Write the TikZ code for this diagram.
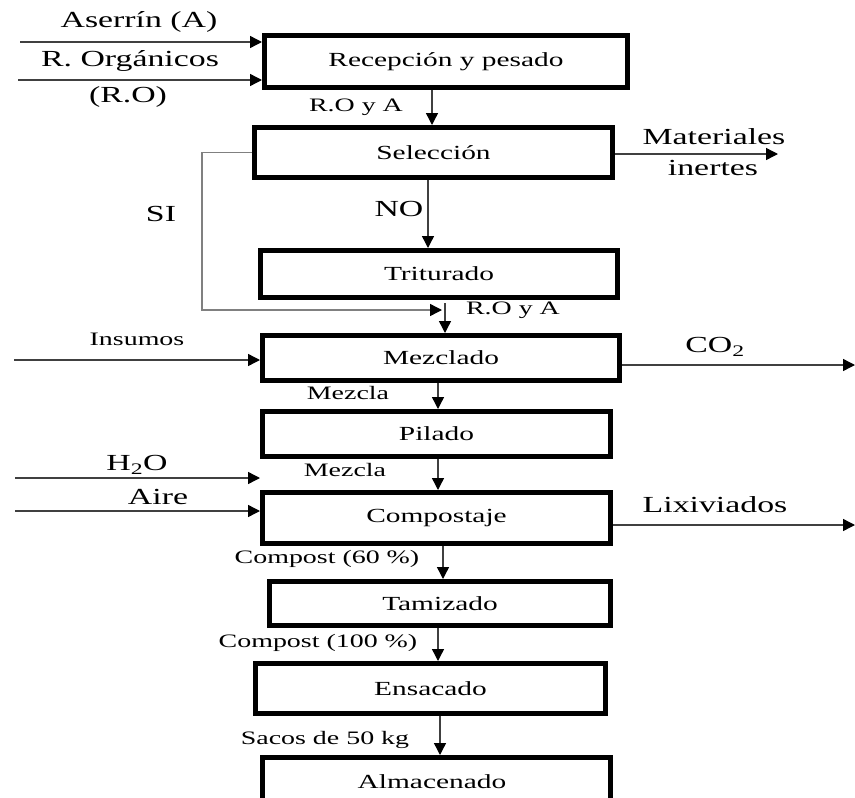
\documentclass[tikz,border=0pt]{standalone}
\usepackage{fontspec}
\setmainfont[FakeStretch=1.47]{Liberation Serif}
\usetikzlibrary{arrows.meta,calc}
\begin{document}
\begin{tikzpicture}[x=1pt,y=-1pt,
  proc/.style={draw=black,line width=5pt,rectangle,inner sep=0pt,font=\fontsize{20}{24}\selectfont},
  flow/.style={draw=black!75,line width=1.4pt,-{Triangle[length=12pt,width=12pt,black]}},
  sflow/.style={draw=black!50,line width=1.4pt,-{Triangle[length=12pt,width=12pt,black]}},
  lbl/.style={inner sep=0pt,font=\fontsize{19}{22}\selectfont},
  big/.style={inner sep=0pt,font=\fontsize{23}{26}\selectfont}]
\useasboundingbox (0,0) rectangle (855,798);
\clip (0,0) rectangle (855,798);

% process boxes
\node[proc,minimum width=363pt,minimum height=52pt] (rec) at (446,61.5) {Recepción y pesado};
\node[proc,minimum width=358pt,minimum height=50pt] (sel) at (433.5,152.5) {Selección};
\node[proc,minimum width=357pt,minimum height=47pt] (tri) at (439,274) {Triturado};
\node[proc,minimum width=357pt,minimum height=45pt] (mez) at (441,358) {Mezclado};
\node[proc,minimum width=348pt,minimum height=45pt] (pil) at (436.5,434) {Pilado};
\node[proc,minimum width=348pt,minimum height=51pt] (com) at (436.5,518) {Compostaje};
\node[proc,minimum width=341pt,minimum height=44pt] (tam) at (440,603.5) {Tamizado};
\node[proc,minimum width=350pt,minimum height=50pt] (ens) at (430.5,688.5) {Ensacado};
\node[proc,minimum width=348pt,minimum height=60pt] (alm) at (436.5,787.5) {};
\node[font=\fontsize{20}{24}\selectfont,inner sep=0pt] (almt) at (432,782) {Almacenado};

% helper coordinates
\coordinate (aIn) at (20,42);
\coordinate (roIn) at (18,80);
\coordinate (insIn) at (14,360);
\coordinate (h2oIn) at (15,478);
\coordinate (aireIn) at (15,511);
\coordinate (matOut) at (778,154);
\coordinate (co2Out) at (855,365);
\coordinate (lixOut) at (855,525);
\coordinate (siTop) at (202,152.5);
\coordinate (siBot) at (202,310);
\coordinate (siEnd) at (442,310);
\coordinate (mzIn) at (445,303);
\coordinate (x432) at (432,0);
\coordinate (x428) at (428,0);
\coordinate (x438) at (438,0);
\coordinate (x443) at (443,0);
\coordinate (x440) at (440,0);

% inputs
\draw[flow] (aIn) -- (aIn -| rec.west);
\draw[flow] (roIn) -- (roIn -| rec.west);
\draw[flow] (insIn) -- (insIn -| mez.west);
\draw[flow] (h2oIn) -- (h2oIn -| com.west);
\draw[flow] (aireIn) -- (aireIn -| com.west);

% outputs
\draw[flow] (sel.east |- matOut) -- (matOut);
\draw[flow] (mez.east |- co2Out) -- (co2Out);
\draw[flow] (com.east |- lixOut) -- (lixOut);

% main flow
\draw[flow] (x432 |- rec.south) -- (x432 |- sel.north);
\draw[flow] (x428 |- sel.south) -- (x428 |- tri.north);
\draw[sflow] (sel.west) -- (siTop) -- (siBot) -- (siEnd);
\draw[flow] (mzIn) -- (mzIn |- mez.north);
\draw[flow] (x438 |- mez.south) -- (x438 |- pil.north);
\draw[flow] (x438 |- pil.south) -- (x438 |- com.north);
\draw[flow] (x443 |- com.south) -- (x443 |- tam.north);
\draw[flow] (x438 |- tam.south) -- (x438 |- ens.north);
\draw[flow] (x440 |- ens.south) -- (x440 |- alm.north);

% labels
\node[big] (lA) at (139,22) {Aserrín (A)};
\node[big] (lRO) at (130,61) {R. Orgánicos};
\node[big] (lRO2) at (128,97) {(R.O)};
\node[lbl] (lROA1) at (356,107) {R.O y A};
\node[big] (lMat) at (714,137) {Materiales};
\node[big] (lIne) at (713,168) {inertes};
\node[big] (lNO) at (399,209) {NO};
\node[big] (lSI) at (161,214) {SI};
\node[lbl] (lROA2) at (513,310) {R.O y A};
\node[lbl] (lIns) at (137,339) {Insumos};
\node[big] (lCO2) at (715,347) {CO\textsubscript{2}};
\node[lbl] (lMz1) at (348,393) {Mezcla};
\node[lbl] (lMz2) at (345,470) {Mezcla};
\node[big] (lH2O) at (137,465) {H\textsubscript{2}O};
\node[big] (lAire) at (158,497) {Aire};
\node[big] (lLix) at (715,505) {Lixiviados};
\node[lbl] (lC60) at (327,559) {Compost (60 \%)};
\node[lbl] (lC100) at (318,643) {Compost (100 \%)};
\node[lbl] (lSac) at (325,740) {Sacos de 50 kg};
\end{tikzpicture}
\end{document}
